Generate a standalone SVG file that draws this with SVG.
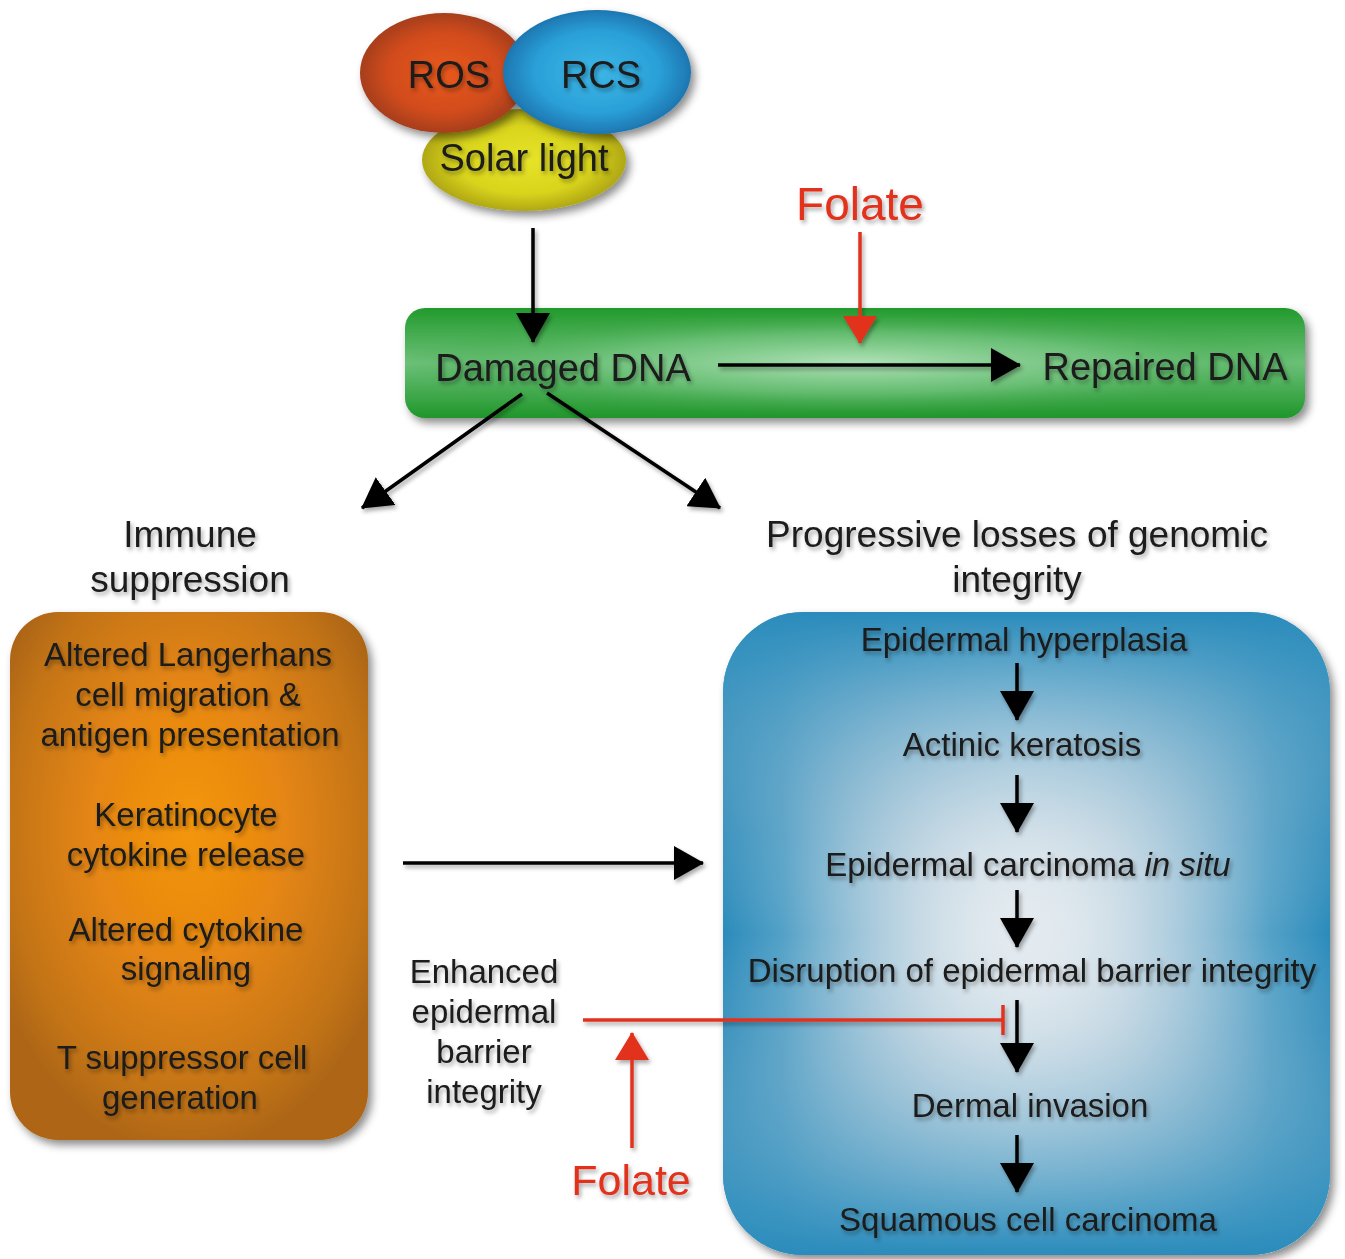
<svg xmlns="http://www.w3.org/2000/svg" width="1345" height="1259" viewBox="0 0 1345 1259">
<style>
  text { font-family: "Liberation Sans", Arial, sans-serif; fill: #1a1a1a; text-anchor: middle; }
  .big { font-size: 38px; }
  .mid { font-size: 37px; }
  .sm { font-size: 33px; }
  .red { fill: #e2301f; font-size: 46px; }
  .ln { stroke: #000; stroke-width: 3.5; fill: none; }
  .rl { stroke: #e2301f; stroke-width: 3.5; fill: none; }
</style>
<defs>
  <filter id="sh" x="-10%" y="-10%" width="130%" height="130%">
    <feDropShadow dx="4" dy="5" stdDeviation="4" flood-color="#000" flood-opacity="0.45"/>
  </filter>
  <filter id="tsh" x="-10%" y="-20%" width="120%" height="150%">
    <feDropShadow dx="2" dy="3" stdDeviation="2" flood-color="#000" flood-opacity="0.35"/>
  </filter>
  <marker id="ah" markerUnits="userSpaceOnUse" markerWidth="30" markerHeight="34" refX="29" refY="17" orient="auto">
    <path d="M0,0 L30,17 L0,34 z" fill="#000"/>
  </marker>
  <marker id="rh" markerUnits="userSpaceOnUse" markerWidth="28" markerHeight="34" refX="27" refY="17" orient="auto">
    <path d="M0,0 L28,17 L0,34 z" fill="#e2301f"/>
  </marker>
  <radialGradient id="gROS" cx="0.5" cy="0.5" r="0.55">
    <stop offset="0" stop-color="#e8581c"/>
    <stop offset="0.6" stop-color="#d24c1a"/>
    <stop offset="1" stop-color="#9a3a1c"/>
  </radialGradient>
  <radialGradient id="gRCS" cx="0.5" cy="0.5" r="0.55">
    <stop offset="0" stop-color="#3cb6e6"/>
    <stop offset="0.6" stop-color="#2aa0d8"/>
    <stop offset="1" stop-color="#1a6aa6"/>
  </radialGradient>
  <radialGradient id="gSol" cx="0.5" cy="0.5" r="0.55">
    <stop offset="0" stop-color="#e8e42a"/>
    <stop offset="0.6" stop-color="#d8d41c"/>
    <stop offset="1" stop-color="#a49a14"/>
  </radialGradient>
  <radialGradient id="gGreenC" cx="0.5" cy="0.5" r="0.5">
    <stop offset="0" stop-color="#b4e4bb" stop-opacity="0.95"/>
    <stop offset="0.55" stop-color="#78c784" stop-opacity="0.6"/>
    <stop offset="1" stop-color="#2e9e38" stop-opacity="0"/>
  </radialGradient>
  <linearGradient id="gGreenV" x1="0" y1="0" x2="0" y2="1">
    <stop offset="0" stop-color="#229a2c"/>
    <stop offset="0.5" stop-color="#6cc078"/>
    <stop offset="1" stop-color="#1f962a"/>
  </linearGradient>
  <radialGradient id="gOr" cx="0.5" cy="0.42" r="0.6" fx="0.5" fy="0.4">
    <stop offset="0" stop-color="#f5960f"/>
    <stop offset="0.45" stop-color="#e58612"/>
    <stop offset="0.85" stop-color="#c27312"/>
    <stop offset="1" stop-color="#ae6614"/>
  </radialGradient>
  <linearGradient id="gBH" x1="0" y1="0" x2="1" y2="0">
    <stop offset="0" stop-color="#2a8bbb" stop-opacity="1"/>
    <stop offset="0.1" stop-color="#3a94c0" stop-opacity="0.85"/>
    <stop offset="0.35" stop-color="#8fb8cf" stop-opacity="0.25"/>
    <stop offset="0.5" stop-color="#d8e2e8" stop-opacity="0"/>
    <stop offset="0.65" stop-color="#8fb8cf" stop-opacity="0.25"/>
    <stop offset="0.9" stop-color="#3a94c0" stop-opacity="0.85"/>
    <stop offset="1" stop-color="#2a8bbb" stop-opacity="1"/>
  </linearGradient>
  <linearGradient id="gBV" x1="0" y1="0" x2="0" y2="1">
    <stop offset="0" stop-color="#2a8bbb" stop-opacity="1"/>
    <stop offset="0.08" stop-color="#3a94c0" stop-opacity="0.8"/>
    <stop offset="0.35" stop-color="#8fb8cf" stop-opacity="0.2"/>
    <stop offset="0.5" stop-color="#d8e2e8" stop-opacity="0"/>
    <stop offset="0.65" stop-color="#8fb8cf" stop-opacity="0.2"/>
    <stop offset="0.92" stop-color="#3a94c0" stop-opacity="0.8"/>
    <stop offset="1" stop-color="#2a8bbb" stop-opacity="1"/>
  </linearGradient>
</defs>
<rect width="1345" height="1259" fill="#fff"/>

<g id="sources">
  <g id="solar">
    <ellipse cx="524" cy="160" rx="102" ry="51" fill="url(#gSol)" filter="url(#sh)"/>
  </g>
  <g id="ros">
    <ellipse cx="444" cy="73" rx="84" ry="60" fill="url(#gROS)" filter="url(#sh)"/>
  </g>
  <g id="rcs">
    <ellipse cx="597" cy="72" rx="94" ry="62" fill="url(#gRCS)" filter="url(#sh)"/>
  </g>
  <g filter="url(#tsh)">
    <text class="big" x="449" y="88">ROS</text>
    <text class="big" x="601" y="88">RCS</text>
    <text class="big" x="524" y="171">Solar light</text>
  </g>
</g>

<g id="dna">
  <rect x="405" y="308" width="900" height="110" rx="20" fill="url(#gGreenV)" filter="url(#sh)"/>
  <rect x="405" y="308" width="900" height="110" rx="20" fill="url(#gGreenC)"/>
  <g filter="url(#tsh)">
    <text class="big" x="563" y="381">Damaged DNA</text>
    <text class="big" x="1165" y="380">Repaired DNA</text>
  </g>
</g>

<g id="folate-top" filter="url(#tsh)">
  <text class="red" x="860" y="220">Folate</text>
</g>

<g id="headings" filter="url(#tsh)">
  <text class="mid" x="190" y="547">Immune</text>
  <text class="mid" x="190" y="592">suppression</text>
  <text class="mid" x="1017" y="547">Progressive losses of genomic</text>
  <text class="mid" x="1017" y="592">integrity</text>
</g>

<g id="immune-box">
  <rect x="10" y="612" width="358" height="528" rx="48" fill="url(#gOr)" filter="url(#sh)"/>
  <g filter="url(#tsh)">
    <text class="sm" x="188" y="666">Altered Langerhans</text>
    <text class="sm" x="188" y="706">cell migration &amp;</text>
    <text class="sm" x="190" y="746">antigen presentation</text>
    <text class="sm" x="186" y="826">Keratinocyte</text>
    <text class="sm" x="186" y="866">cytokine release</text>
    <text class="sm" x="186" y="941">Altered cytokine</text>
    <text class="sm" x="186" y="980">signaling</text>
    <text class="sm" x="182" y="1069">T suppressor cell</text>
    <text class="sm" x="180" y="1109">generation</text>
  </g>
</g>

<g id="genomic-box">
  <rect x="723" y="612" width="607" height="643" rx="80" fill="#e4ebf0" filter="url(#sh)"/>
  <rect x="723" y="612" width="607" height="643" rx="80" fill="url(#gBH)"/>
  <rect x="723" y="612" width="607" height="643" rx="80" fill="url(#gBV)"/>
  <g filter="url(#tsh)">
    <text class="sm" x="1024" y="651">Epidermal hyperplasia</text>
    <text class="sm" x="1022" y="756">Actinic keratosis</text>
    <text class="sm" x="1028" y="876">Epidermal carcinoma <tspan font-style="italic">in situ</tspan></text>
    <text class="sm" x="1032" y="982">Disruption of epidermal barrier integrity</text>
    <text class="sm" x="1030" y="1117">Dermal invasion</text>
    <text class="sm" x="1028" y="1231">Squamous cell carcinoma</text>
  </g>
</g>

<g id="barrier" filter="url(#tsh)">
  <text class="sm" x="484" y="983">Enhanced</text>
  <text class="sm" x="484" y="1023">epidermal</text>
  <text class="sm" x="484" y="1063">barrier</text>
  <text class="sm" x="484" y="1103">integrity</text>
</g>

<g id="folate-bottom" filter="url(#tsh)">
  <text class="red" x="631" y="1195" style="font-size:43px">Folate</text>
</g>

<g id="connectors" filter="url(#tsh)">
  <line class="ln" x1="533" y1="228" x2="533" y2="342" marker-end="url(#ah)"/>
  <line class="rl" x1="860" y1="232" x2="860" y2="343" marker-end="url(#rh)"/>
  <line class="ln" x1="718" y1="365" x2="1020" y2="365" marker-end="url(#ah)"/>
  <line class="ln" x1="522" y1="394" x2="362" y2="508" marker-end="url(#ah)"/>
  <line class="ln" x1="547" y1="393" x2="720" y2="508" marker-end="url(#ah)"/>
  <line class="ln" x1="403" y1="863" x2="703" y2="863" marker-end="url(#ah)"/>
  <line class="ln" x1="1017" y1="663" x2="1017" y2="720" marker-end="url(#ah)"/>
  <line class="ln" x1="1017" y1="775" x2="1017" y2="832" marker-end="url(#ah)"/>
  <line class="ln" x1="1017" y1="890" x2="1017" y2="947" marker-end="url(#ah)"/>
  <line class="ln" x1="1017" y1="1000" x2="1017" y2="1072" marker-end="url(#ah)"/>
  <line class="ln" x1="1017" y1="1135" x2="1017" y2="1192" marker-end="url(#ah)"/>
  <line class="rl" x1="583" y1="1020" x2="1003" y2="1020"/>
  <line class="rl" x1="1003" y1="1005" x2="1003" y2="1035"/>
  <line class="rl" x1="632" y1="1148" x2="632" y2="1033" marker-end="url(#rh)"/>
</g>
</svg>
